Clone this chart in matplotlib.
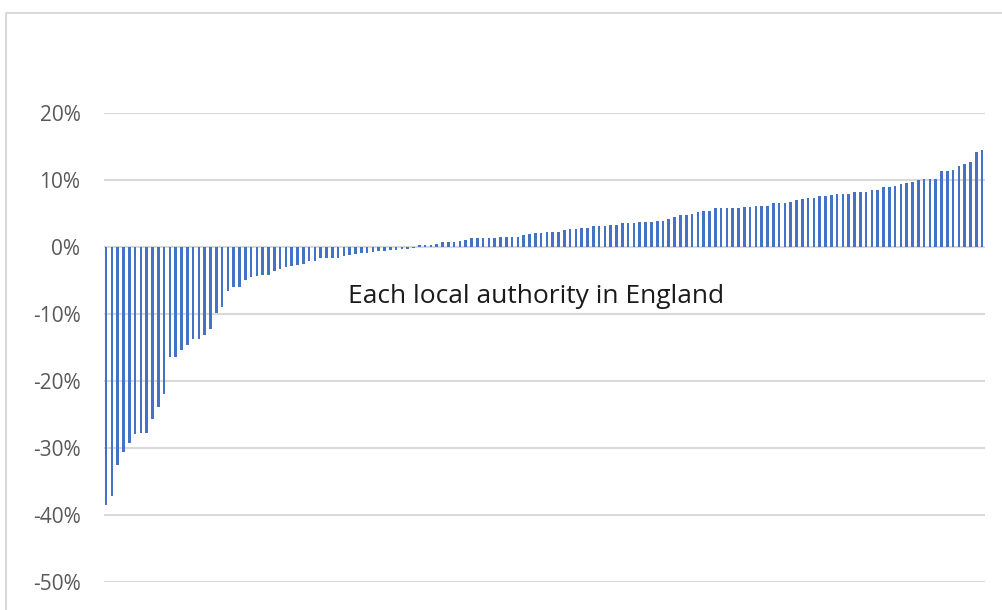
import matplotlib
matplotlib.use("Agg")
import matplotlib.pyplot as plt
from matplotlib.patches import Rectangle
from matplotlib.ticker import FuncFormatter

# change per local authority, sorted from lowest to highest (percent)
change_pct = [
    -38.5, -37.2, -32.6, -30.6, -29.3, -27.9, -27.7, -27.7, -25.7, -23.9,
    -21.9, -16.4, -16.4, -15.4, -14.6, -13.8, -13.7, -13.2, -12.2, -9.9,
    -8.9, -6.6, -5.9, -5.9, -4.9, -4.5, -4.4, -4.2, -4.2, -3.6,
    -3.3, -3.05, -2.9, -2.65, -2.5, -2.15, -2.05, -1.65, -1.65, -1.65,
    -1.65, -1.3, -1.25, -1.05, -0.9, -0.9, -0.8, -0.65, -0.65, -0.5,
    -0.45, -0.3, -0.25, -0.2, 0.25, 0.25, 0.3, 0.5, 0.7, 0.7,
    0.7, 0.9, 1.1, 1.3, 1.3, 1.3, 1.3, 1.3, 1.5, 1.5,
    1.5, 1.5, 1.75, 1.9, 2.1, 2.1, 2.3, 2.3, 2.3, 2.5,
    2.7, 2.7, 2.9, 2.9, 3.1, 3.1, 3.15, 3.35, 3.35, 3.6,
    3.6, 3.6, 3.75, 3.75, 3.75, 3.95, 3.95, 4.15, 4.55, 4.75,
    4.75, 4.95, 5.15, 5.35, 5.35, 5.75, 5.75, 5.75, 5.75, 5.75,
    6.0, 6.0, 6.15, 6.15, 6.15, 6.55, 6.55, 6.55, 6.75, 6.95,
    7.15, 7.35, 7.35, 7.55, 7.55, 7.75, 7.95, 7.95, 7.95, 8.15,
    8.15, 8.15, 8.55, 8.55, 8.95, 8.95, 9.15, 9.35, 9.6, 9.75,
    9.95, 10.15, 10.15, 10.15, 11.35, 11.35, 11.55, 12.15, 12.35, 12.75,
    14.2, 14.55,
]
y_ticks = [-50, -40, -30, -20, -10, 0, 10, 20]
label = "Each local authority in England"

W, H = 1002, 610
fig = plt.figure(figsize=(W / 100, H / 100), dpi=100)

# outer chart frame, running off the right and bottom edges
fig.patches.append(Rectangle((6 / W, -0.1), 1.1, 1 - 13 / H + 0.1,
                             transform=fig.transFigure, fill=False,
                             edgecolor="#d9d9d9", linewidth=1.5))

ax = fig.add_axes([104 / W, 1 - 582 / H, (985 - 104) / W, (582 - 113) / H])
x = range(len(change_pct))
ax.bar(x, change_pct, width=0.45, color="#4472C4", zorder=3)

ax.set_ylim(-50, 20)
ax.set_xlim(-0.35, len(change_pct) - 0.5)
ax.set_yticks(y_ticks)
ax.yaxis.set_major_formatter(FuncFormatter(lambda v, _: f"{v:.0f}%"))
ax.set_xticks([])
ax.grid(axis="y", color="#d9d9d9", linewidth=1.5, zorder=0)
ax.tick_params(axis="y", length=0, pad=17, labelsize=15, labelcolor="#595959")
for lbl in ax.get_yticklabels():
    lbl.set_fontfamily("Open Sans")
for s in ax.spines.values():
    s.set_visible(False)

fig.text(536 / W, 1 - 297 / H, label, ha="center", va="center",
         fontsize=19, color="#1a1a1a", family="Open Sans")

fig.savefig("out.png", dpi=100)
